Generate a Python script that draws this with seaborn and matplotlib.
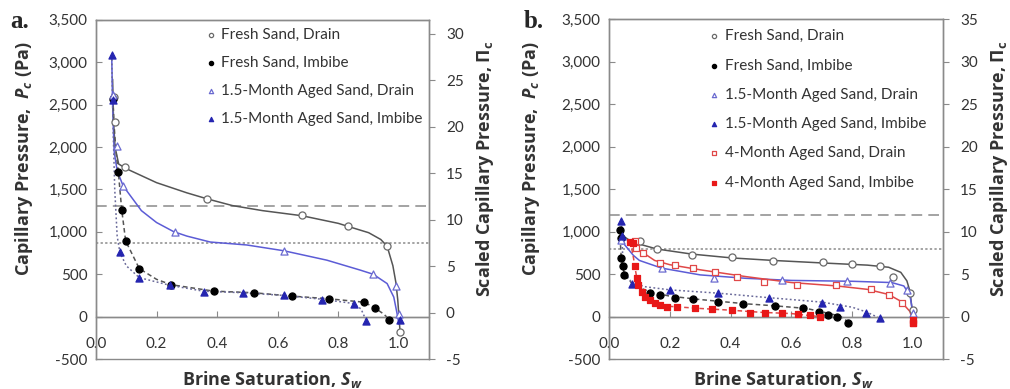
import numpy as np
import pandas as pd
import seaborn as sns
import matplotlib.pyplot as plt
from matplotlib.ticker import FuncFormatter, MultipleLocator

sns.set_style("white")
plt.rcParams['font.family'] = ['Lato', 'DejaVu Sans']
plt.rcParams['mathtext.fontset'] = 'custom'
plt.rcParams['mathtext.it'] = 'Open Sans:italic:bold'
plt.rcParams['mathtext.rm'] = 'Open Sans:bold'
plt.rcParams['axes.unicode_minus'] = False

# ---------------- panel a: measured points (Sw, Pc in Pa) ----------------
a_fresh_drain_sw = [0.058, 0.063, 0.096, 0.366, 0.68, 0.833, 0.961, 1.003]
a_fresh_drain_pc = [2590, 2300, 1760, 1390, 1195, 1065, 830, -185]
a_fresh_imb_sw = [0.057, 0.074, 0.085, 0.098, 0.143, 0.248, 0.388, 0.52, 0.647, 0.768, 0.886, 0.922, 0.966]
a_fresh_imb_pc = [2570, 1700, 1262, 893, 567, 377, 301, 282, 242, 211, 170, 99, -36]
a_aged15_drain_sw = [0.057, 0.068, 0.09, 0.26, 0.62, 0.915, 0.99, 1.0]
a_aged15_drain_pc = [2610, 2015, 1540, 1003, 777, 500, 357, 32]
a_aged15_imb_sw = [0.052, 0.055, 0.079, 0.143, 0.245, 0.355, 0.485, 0.62, 0.746, 0.85, 0.892, 1.003]
a_aged15_imb_pc = [3086, 2560, 758, 460, 369, 289, 282, 250, 202, 151, -48, -36]

# panel a: fitted curves
a_fresh_drain_fit_sw = [0.055, 0.058, 0.063, 0.075, 0.1, 0.2, 0.3, 0.366, 0.45, 0.55, 0.68, 0.8, 0.833, 0.9, 0.94, 0.961, 0.98, 0.99, 0.996, 1.0, 1.004]
a_fresh_drain_fit_pc = [2800, 2300, 2000, 1800, 1745, 1580, 1460, 1390, 1310, 1250, 1190, 1100, 1063, 990, 910, 830, 600, 400, 200, 0, -190]
a_aged15_drain_fit_sw = [0.052, 0.055, 0.06, 0.07, 0.09, 0.15, 0.2, 0.256, 0.3, 0.377, 0.498, 0.62, 0.762, 0.873, 0.915, 0.961, 0.983, 0.994, 1.0]
a_aged15_drain_fit_pc = [3086, 2500, 1950, 1720, 1540, 1250, 1110, 1003, 950, 880, 845, 777, 666, 548, 500, 390, 230, 32, -90]
a_fresh_imb_fit_sw = [0.056, 0.06, 0.066, 0.074, 0.085, 0.098, 0.143, 0.2, 0.248, 0.388, 0.52, 0.647, 0.768, 0.886, 0.922, 0.95, 0.97]
a_fresh_imb_fit_pc = [2570, 2250, 1950, 1700, 1262, 893, 567, 440, 377, 301, 282, 242, 211, 170, 99, 30, -40]
a_aged15_imb_fit_sw = [0.052, 0.056, 0.062, 0.07, 0.079, 0.1, 0.143, 0.245, 0.355, 0.485, 0.62, 0.746, 0.85, 0.875, 0.892]
a_aged15_imb_fit_pc = [3086, 2300, 1500, 950, 758, 600, 460, 369, 300, 282, 250, 205, 155, 90, -48]
a_thresholds = [1310, 870]

# ---------------- panel b: measured points ----------------
b_fresh_drain_sw = [0.102, 0.157, 0.272, 0.403, 0.541, 0.705, 0.798, 0.891, 0.935, 0.99, 1.0]
b_fresh_drain_pc = [884, 798, 727, 695, 656, 636, 617, 597, 471, 275, 78]
b_fresh_imb_sw = [0.036, 0.041, 0.041, 0.045, 0.05, 0.135, 0.168, 0.217, 0.277, 0.359, 0.44, 0.545, 0.637, 0.69, 0.72, 0.75, 0.785]
b_fresh_imb_pc = [1022, 924, 688, 600, 490, 275, 255, 223, 204, 176, 149, 129, 105, 51, 19, 0, -79]
b_aged15_drain_sw = [0.04, 0.173, 0.344, 0.57, 0.782, 0.925, 0.98, 1.0]
b_aged15_drain_pc = [900, 570, 459, 432, 424, 393, 314, 39]
b_aged15_imb_sw = [0.041, 0.043, 0.074, 0.2, 0.359, 0.525, 0.7, 0.76, 0.847, 0.891]
b_aged15_imb_pc = [1120, 950, 380, 314, 275, 216, 165, 117, 46, -20]
b_aged4_drain_sw = [0.086, 0.09, 0.113, 0.168, 0.217, 0.277, 0.35, 0.42, 0.51, 0.62, 0.747, 0.862, 0.92, 0.964, 1.0]
b_aged4_drain_pc = [884, 810, 747, 629, 609, 570, 530, 471, 412, 373, 373, 322, 255, 157, -79]
b_aged4_imb_sw = [0.07, 0.078, 0.086, 0.091, 0.096, 0.108, 0.118, 0.135, 0.151, 0.168, 0.19, 0.223, 0.283, 0.338, 0.404,
                  0.464, 0.513, 0.568, 0.623, 0.661, 0.694, 1.0, 1.0]
b_aged4_imb_pc = [880, 865, 589, 452, 373, 294, 235, 196, 157, 137, 117, 110, 98, 90, 78,
                  46, 46, 39, 31, 19, 0, -40, -80]

# panel b: fitted curves
b_fresh_drain_fit_sw = [0.036, 0.05, 0.07, 0.102, 0.157, 0.272, 0.403, 0.541, 0.705, 0.85, 0.92, 0.96, 0.98, 0.99, 1.0]
b_fresh_drain_fit_pc = [1022, 940, 890, 850, 795, 735, 690, 660, 630, 605, 580, 520, 420, 300, 0]
b_aged15_drain_fit_sw = [0.036, 0.05, 0.08, 0.1, 0.173, 0.3, 0.45, 0.6, 0.8, 0.93, 0.97, 0.99, 1.0]
b_aged15_drain_fit_pc = [1000, 850, 720, 660, 570, 490, 450, 425, 415, 400, 360, 250, 40]
b_aged4_drain_fit_sw = [0.07, 0.1, 0.15, 0.2, 0.3, 0.45, 0.6, 0.75, 0.85, 0.92, 0.96, 0.99, 1.0]
b_aged4_drain_fit_pc = [900, 780, 660, 610, 550, 470, 400, 360, 320, 260, 180, 60, -60]
b_fresh_imb_fit_sw = [0.035, 0.04, 0.05, 0.08, 0.135, 0.2, 0.3, 0.45, 0.55, 0.65, 0.72, 0.76, 0.79]
b_fresh_imb_fit_pc = [1020, 700, 500, 370, 290, 240, 200, 150, 125, 95, 40, 5, -70]
b_aged15_imb_fit_sw = [0.041, 0.045, 0.06, 0.074, 0.12, 0.2, 0.36, 0.5, 0.7, 0.8, 0.85, 0.89]
b_aged15_imb_fit_pc = [1120, 700, 480, 400, 350, 314, 275, 230, 170, 110, 50, -20]
b_aged4_imb_fit_sw = [0.07, 0.08, 0.09, 0.1, 0.12, 0.15, 0.2, 0.3, 0.4, 0.5, 0.6, 0.69]
b_aged4_imb_fit_pc = [890, 700, 480, 350, 240, 160, 120, 95, 75, 50, 35, 0]
b_thresholds = [1200, 800]

labels = {
    'fresh_drain': 'Fresh Sand, Drain',
    'fresh_imb': 'Fresh Sand, Imbibe',
    'aged15_drain': '1.5-Month Aged Sand, Drain',
    'aged15_imb': '1.5-Month Aged Sand, Imbibe',
    'aged4_drain': '4-Month Aged Sand, Drain',
    'aged4_imb': '4-Month Aged Sand, Imbibe',
}
# marker, edge colour, filled?
marker_style = {
    'fresh_drain': ('o', '#6a6a6a', False),
    'fresh_imb': ('o', '#000000', True),
    'aged15_drain': ('^', '#6b6bd0', False),
    'aged15_imb': ('^', '#2525b0', True),
    'aged4_drain': ('s', '#e04848', False),
    'aged4_imb': ('s', '#e81818', True),
}
# colour, linestyle
line_style = {
    'fresh_drain': ('#555555', '-'),
    'fresh_imb': ('#555555', (0, (3, 2))),
    'aged15_drain': ('#5c5cd6', '-'),
    'aged15_imb': ('#6a6a9a', (0, (1.2, 1.6))),
    'aged4_drain': ('#e04848', '-'),
    'aged4_imb': ('#e04848', (0, (3, 2))),
}

GRAY = '#8a8a8a'
TXT = '#333333'
LABEL_FONT = dict(fontsize=13, fontweight='bold', color=TXT, family=['Open Sans', 'DejaVu Sans'])


def draw_panel(ax, points, fits, thresholds, right_lim, right_ticks, leg_anchor, leg_space):
    ax.set_xlim(0, 1.1)
    ax.set_ylim(-500, 3500)
    for (y, ls) in zip(thresholds, [(0, (7, 4)), (0, (1.5, 1.5))]):
        ax.axhline(y, color=GRAY, lw=1.1, ls=ls, zorder=1)
    ax.axhline(0, color=GRAY, lw=1, zorder=1)
    for key, (xs, ys) in fits.items():
        c, ls = line_style[key]
        sns.lineplot(x=xs, y=ys, ax=ax, sort=False, estimator=None, color=c,
                     linestyle=ls, lw=1.1, zorder=2)
    for key, (xs, ys) in points.items():
        m, c, filled = marker_style[key]
        sns.scatterplot(x=xs, y=ys, ax=ax, marker=m, s=26 if m != 's' else 22,
                        facecolor=c if filled else 'white', edgecolor=c,
                        linewidth=0.9, label=labels[key], zorder=3)

    ax.set_xticks([0, 0.2, 0.4, 0.6, 0.8, 1.0])
    ax.xaxis.set_major_formatter(FuncFormatter(lambda v, p: f'{v:.1f}'))
    ax.yaxis.set_major_locator(MultipleLocator(500))
    ax.yaxis.set_major_formatter(FuncFormatter(lambda v, p: f'{v:,.0f}'))
    ax.spines['bottom'].set_position(('data', 0))
    for sp in ax.spines.values():
        sp.set_color(GRAY)
        sp.set_linewidth(1)
    ax.tick_params(axis='x', direction='in', length=4, color=GRAY, pad=15,
                   labelsize=11, labelcolor=TXT, bottom=True)
    ax.tick_params(axis='y', direction='in', length=4, color=GRAY, pad=6,
                   labelsize=11, labelcolor=TXT, left=True)

    ax2 = ax.twinx()
    ax2.set_ylim(*right_lim)
    ax2.set_yticks(right_ticks)
    for sp in ax2.spines.values():
        sp.set_color(GRAY)
        sp.set_linewidth(1)
    ax2.tick_params(axis='y', direction='out', length=4, color=GRAY, pad=8,
                    labelsize=11, labelcolor=TXT, right=True)
    ax2.grid(False)
    ax.grid(False)

    ax.set_xlabel('Brine Saturation, $S_w$', **LABEL_FONT)
    ax.set_ylabel('Capillary Pressure,  $P_c$ (Pa)', **LABEL_FONT)
    ax2.set_ylabel('Scaled Capillary Pressure, Π$_\\mathrm{c}$', **LABEL_FONT)

    handles, labs = ax.get_legend_handles_labels()
    ax.legend(handles, labs, loc='upper left', bbox_to_anchor=leg_anchor, frameon=False,
              fontsize=11, markerscale=0.6, handlelength=0.6, handletextpad=0.4,
              labelspacing=leg_space, borderpad=0, borderaxespad=0, labelcolor=TXT)
    return ax2


fig = plt.figure(figsize=(10.1, 3.89), dpi=100)
ax_a = fig.add_axes([0.095, 0.077, 0.330, 0.872])
ax_b = fig.add_axes([0.603, 0.077, 0.331, 0.874])

pts_a = {
    'fresh_drain': (a_fresh_drain_sw, a_fresh_drain_pc),
    'fresh_imb': (a_fresh_imb_sw, a_fresh_imb_pc),
    'aged15_drain': (a_aged15_drain_sw, a_aged15_drain_pc),
    'aged15_imb': (a_aged15_imb_sw, a_aged15_imb_pc),
}
fits_a = {
    'fresh_drain': (a_fresh_drain_fit_sw, a_fresh_drain_fit_pc),
    'aged15_drain': (a_aged15_drain_fit_sw, a_aged15_drain_fit_pc),
    'fresh_imb': (a_fresh_imb_fit_sw, a_fresh_imb_fit_pc),
    'aged15_imb': (a_aged15_imb_fit_sw, a_aged15_imb_fit_pc),
}
pts_b = {
    'fresh_drain': (b_fresh_drain_sw, b_fresh_drain_pc),
    'fresh_imb': (b_fresh_imb_sw, b_fresh_imb_pc),
    'aged15_drain': (b_aged15_drain_sw, b_aged15_drain_pc),
    'aged15_imb': (b_aged15_imb_sw, b_aged15_imb_pc),
    'aged4_drain': (b_aged4_drain_sw, b_aged4_drain_pc),
    'aged4_imb': (b_aged4_imb_sw, b_aged4_imb_pc),
}
fits_b = {
    'fresh_drain': (b_fresh_drain_fit_sw, b_fresh_drain_fit_pc),
    'aged15_drain': (b_aged15_drain_fit_sw, b_aged15_drain_fit_pc),
    'aged4_drain': (b_aged4_drain_fit_sw, b_aged4_drain_fit_pc),
    'fresh_imb': (b_fresh_imb_fit_sw, b_fresh_imb_fit_pc),
    'aged15_imb': (b_aged15_imb_fit_sw, b_aged15_imb_fit_pc),
    'aged4_imb': (b_aged4_imb_fit_sw, b_aged4_imb_fit_pc),
}

ax2_a = draw_panel(ax_a, pts_a, fits_a, a_thresholds, (-5, 31.5), [-5, 0, 5, 10, 15, 20, 25, 30],
                   (0.33, 0.975), 0.9)
ax2_b = draw_panel(ax_b, pts_b, fits_b, b_thresholds, (-5, 35), [-5, 0, 5, 10, 15, 20, 25, 30, 35],
                   (0.30, 0.97), 1.0)

for ax, ax2, lx, rx, xx in [(ax_a, ax2_a, -0.183, 1.135, 0.53), (ax_b, ax2_b, -0.20, 1.135, 0.52)]:
    ax.yaxis.set_label_coords(lx, 0.59)
    ax2.yaxis.set_label_coords(rx, 0.56)
    ax.xaxis.set_label_coords(xx, -0.03)

fig.text(0.010, 0.945, 'a.', fontfamily='Liberation Serif', fontweight='bold', fontsize=18, va='center')
fig.text(0.518, 0.945, 'b.', fontfamily='Liberation Serif', fontweight='bold', fontsize=18, va='center')

fig.savefig('out.png', dpi=100)
